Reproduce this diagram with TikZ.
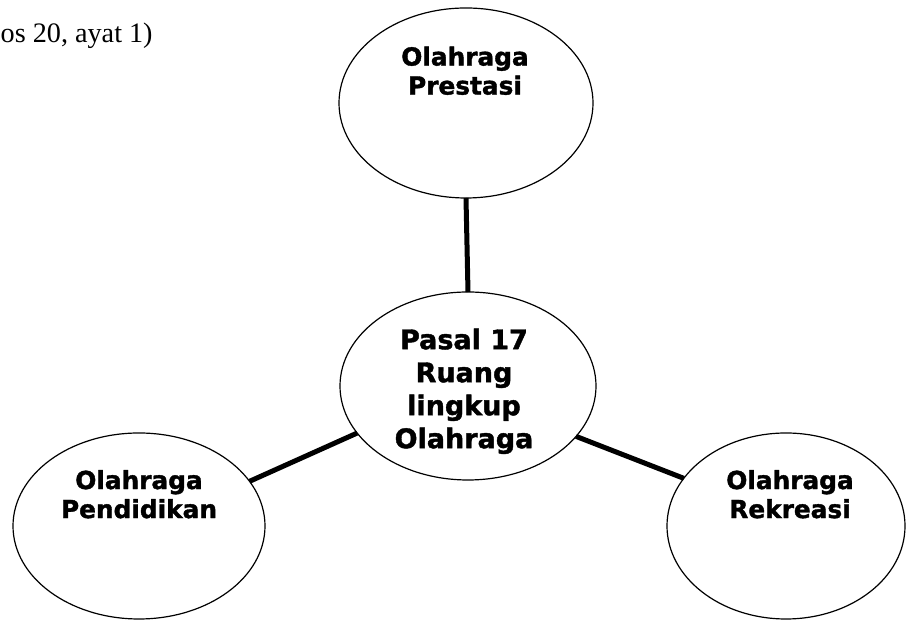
\documentclass[tikz,border=0pt]{standalone}
\usepackage{fontspec}
\setmainfont{Liberation Serif}
\newfontfamily\boxfont[BoldFeatures={FakeBold=1.5}]{DejaVu Sans}
\usetikzlibrary{shapes.geometric}
\tikzset{
  oval/.style={ellipse, draw=black, line width=1.2pt, inner sep=0pt, outer sep=0pt, fill=white},
  ovaltext/.style={anchor=north, align=center, inner sep=0pt, font=\boxfont\bfseries\fontsize{24.8}{29}\selectfont},
  bigtext/.style={anchor=north, align=center, inner sep=0pt, font=\boxfont\bfseries\fontsize{27}{33}\selectfont},
  link/.style={line width=5pt, line cap=butt}
}
\begin{document}
\begin{tikzpicture}[x=1pt,y=1pt]
\useasboundingbox (0,0) rectangle (906,620);
\node[anchor=base west, inner sep=0pt, font=\fontsize{28.2}{34}\selectfont] (note) at (0.5,577) {os 20, ayat 1)};
% ellipses
\node[oval, minimum width=254pt, minimum height=190pt] (top) at (466,517) {};
\node[oval, minimum width=256pt, minimum height=188pt] (mid) at (468,234) {};
\node[oval, minimum width=252pt, minimum height=186pt] (left) at (139,94) {};
\node[oval, minimum width=238pt, minimum height=186pt] (right) at (786,94) {};
% connectors
\draw[link] (top.south) -- (mid.north);
\draw[link] (mid.203.4) -- (left.22.4);
\draw[link] (mid.335.8) -- (right.155.9);
% texts
\node[ovaltext] (ttop) at (465,573.5) {Olahraga\\Prestasi};
\node[bigtext] (tmid) at (464,291.5) {Pasal 17\\Ruang\\lingkup\\Olahraga};
\node[ovaltext] (tleft) at (139,150) {Olahraga\\Pendidikan};
\node[ovaltext] (tright) at (790,150) {Olahraga\\Rekreasi};
\end{tikzpicture}
\end{document}
